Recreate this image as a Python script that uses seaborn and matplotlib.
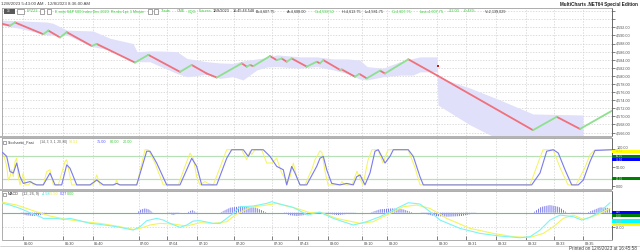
import numpy as np
import pandas as pd
import matplotlib
matplotlib.use("Agg")
import matplotlib.pyplot as plt
from matplotlib.patches import Rectangle
from matplotlib.transforms import blended_transform_factory as btf, ScaledTranslation
import seaborn as sns

# ---------------- data ----------------
# x axis = bar position (renko bars)
tick_pos = [22.7, 63, 92.7, 138.7, 167, 197, 234, 272, 298, 328, 362, 387, 437, 466, 496, 526, 554, 583]
tick_lab = ['06:00', '06:30', '06:40', '07:00', '07:04', '07:10', '07:20', '07:30', '07:43',
            '08:00', '08:10', '08:20', '08:30', '08:31', '08:32', '08:32', '08:33', '08:35']

price_x = [0, 10, 15, 43.3, 48.3, 60, 66.7, 91.7, 96.7, 135, 148.3, 180, 191.7, 206.7, 216.7, 241.7,
           246.7, 250, 253.3, 270, 276.7, 281.7, 286.7, 291.7, 306.7, 316.7, 320, 323.3, 340, 341.7,
           355, 359.3, 366.7, 380, 385, 408.3, 438, 533, 556.7, 580, 612]
price = [4593.0, 4592.4, 4593.2, 4590.3, 4591.2, 4589.5, 4590.8, 4587.4, 4587.9, 4583.3, 4585.2,
         4581.0, 4582.7, 4580.6, 4579.6, 4583.1, 4582.3, 4582.7, 4582.4, 4584.9, 4583.9, 4584.3,
         4583.5, 4584.3, 4582.3, 4583.5, 4583.1, 4583.9, 4581.5, 4581.6, 4579.8, 4580.5, 4579.4,
         4581.3, 4580.6, 4584.1, 4580.0, 4566.6, 4569.9, 4566.9, 4571.4]

band_x = [0, 20, 47, 53, 67, 93, 110, 117, 133, 137, 150, 160, 177, 187, 207, 220, 233, 243, 257, 267,
          277, 300, 317, 333, 347, 360, 367, 383, 400, 413, 420, 437, 438, 470, 500, 533, 583]
band_hi = [4593.8, 4593.6, 4593.3, 4593.0, 4591.3, 4591.1, 4589.3, 4588.9, 4588.0, 4586.0, 4586.15,
           4586.15, 4586.0, 4584.3, 4583.5, 4583.2, 4583.1, 4583.7, 4584.2, 4584.5, 4585.2, 4584.7,
           4584.7, 4584.2, 4584.2, 4583.9, 4582.3, 4581.9, 4583.5, 4584.3, 4584.7, 4584.7, 4579.7,
           4577.0, 4574.05, 4570.6, 4570.35]
band_lo = [4592.6, 4591.75, 4590.1, 4590.1, 4590.1, 4587.2, 4586.4, 4585.6, 4583.5, 4583.5, 4583.5,
           4582.4, 4580.6, 4579.8, 4580.4, 4579.4, 4579.8, 4579.0, 4581.5, 4582.2, 4582.3, 4581.9,
           4582.3, 4581.5, 4580.6, 4579.2, 4579.0, 4579.8, 4580.2, 4580.2, 4581.0, 4581.0, 4572.8,
           4567.9, 4564.2, 4562.9, 4562.9]
signal_dot_x = [437.7]
signal_dot_p = [4582.4]
price_ticks = list(range(4566, 4597, 2))

stoch_d_x = [0, 3.3, 6.7, 10, 13.3, 16.7, 20, 23.3, 30, 33.3, 36.7, 43.3, 50, 55, 61.7, 66.7, 70, 76.7, 90,
             96.7, 103.3, 113.3, 116.7, 120, 136.7, 146.7, 150, 156.7, 166.7, 180, 186.7, 191.7, 196.7,
             201.7, 216.7, 226.7, 231.7, 243.3, 248.3, 251.7, 263.3, 270, 276.7, 283.3, 286.7, 291.7,
             295, 300, 306.7, 316.7, 320, 323.3, 326.7, 331.7, 340, 346.7, 353.3, 356.7, 360, 365, 370,
             375, 378.3, 381.7, 385, 390, 393.3, 408.3, 413.3, 420, 423.3, 531.7, 540, 546.7, 553.3,
             558.3, 565, 571.7, 578.3, 583.3, 590, 595, 611.7]
stoch_d = [94, 89, 80, 39, 35, 62, 25, 7, 12, 7, 3, 3, 35, 3, 3, 57, 48, 3, 3, 16, 3, 3, 7, 3, 3, 94, 94,
           62, 3, 3, 44, 75, 53, 3, 3, 75, 98, 98, 80, 98, 98, 80, 53, 44, 3, 53, 35, 3, 3, 53, 75, 80,
           44, 7, 3, 7, 3, 25, 30, 3, 35, 94, 98, 80, 62, 80, 98, 98, 80, 25, 3, 3, 35, 94, 98, 89, 44,
           3, 3, 16, 66, 96, 98]
stoch_k_x = [0, 1.7, 3.3, 5, 6.7, 8.3, 10, 11.7, 13.3, 15, 16.7, 18.3, 20, 23.3, 25, 28.3, 31.7, 33.3,
             43.3, 46.7, 50, 53.3, 58.3, 65, 66.7, 71.7, 93.3, 96.7, 100, 115, 116.7, 118.3, 136.7, 145,
             148.3, 155, 163.3, 178.3, 185, 190, 193.3, 196.7, 200, 205, 208.3, 213.3, 221.7, 226.7,
             241.7, 246.7, 250, 251.7, 255, 261.7, 266.7, 271.7, 276.7, 281.7, 285, 286.7, 290, 293.3,
             296.7, 300, 305, 311.7, 315, 320, 322, 325, 328, 340, 342, 345, 352, 357, 360, 363, 368,
             372, 378, 383, 388, 408, 415, 420, 530, 538, 543, 553, 560, 568, 576, 585, 590, 595, 612]
stoch_k = [98, 80, 89, 71, 53, 16, 25, 44, 25, 66, 75, 25, 3, 35, 3, 3, 12, 3, 3, 39, 44, 3, 3, 66, 71,
           3, 3, 30, 3, 3, 16, 3, 3, 98, 98, 62, 3, 3, 53, 89, 75, 25, 3, 12, 7, 3, 62, 98, 98, 71, 94,
           85, 98, 98, 62, 62, 75, 35, 21, 3, 25, 62, 25, 3, 3, 44, 71, 95, 90, 40, 3, 3, 12, 3, 3, 40,
           20, 3, 70, 98, 98, 62, 98, 98, 50, 3, 3, 62, 98, 98, 50, 3, 3, 50, 85, 98, 98]
stoch_levels = [80, 20]
stoch_tags = [(93.51, '#ffff00'), (80.00, '#008000'), (75.00, '#0000ff'), (20.00, '#008000')]

macd_x = [0, 10, 20, 30, 40, 43.3, 56.7, 63.3, 70, 80, 90, 100, 116.7, 133.3, 140, 146.7, 156.7, 163.3,
          170, 180, 186.7, 193.3, 200, 213.3, 220, 233.3, 240, 253.3, 266.7, 271.7, 280, 293.3, 303.3,
          308.3, 313.3, 320, 333.3, 353.3, 366.7, 380, 396.7, 408.3, 420, 430, 440, 460, 480, 500, 520,
          530, 540, 550, 560, 573.3, 581.7, 590, 600, 610]
macd = [5.52, 4.24, 2.39, 0, -2.21, -3.13, -3.13, -3.68, -3.13, -4.42, -5.89, -6.45, -7.73, -9.58,
        -7.73, -4.42, -3.13, -4.05, -5.89, -8.10, -6.81, -4.60, -4.42, -5.89, -5.89, -0.37, 3.31, 3.68,
        5.16, 6.08, 4.79, 2.95, 0, -1.29, -0.37, 0.3, -3.13, -6.81, -4.97, -2.21, 2.39, 5.52, 4.79,
        0.55, -4.05, -8.66, -11.42, -12.89, -13.81, -13.26, -9.58, -4.05, -1.29, -2.21, -4.05, -2.58,
        0.55, 5.52]
sig_x = [0, 16.7, 33.3, 50, 66.7, 83.3, 100, 116.7, 133.3, 140, 150, 160, 173.3, 186.7, 200, 213.3,
         226.7, 236.7, 250, 266.7, 276.7, 286.7, 300, 310, 320, 336.7, 360, 373.3, 386.7, 403.3, 416.7,
         430, 446.7, 470, 493.3, 513.3, 530, 543.3, 553.3, 563.3, 573.3, 583.3, 596.7, 610]
sig = [6.08, 4.24, 1.10, -1.84, -3.68, -4.97, -5.89, -7.37, -9.21, -8.66, -6.81, -5.89, -6.26, -7.37,
       -5.52, -5.89, -4.97, -0.74, 2.95, 4.24, 5.16, 3.68, 1.84, 0, 0.3, -3.13, -5.89, -4.97, -1.29,
       3.31, 4.24, 2.39, -3.13, -8.66, -11.42, -13.26, -13.63, -11.42, -7.73, -3.13, -1.29, -3.68,
       -1.29, 2.39]
hist_x = [2, 20, 26, 33, 40, 47, 137, 141, 145, 149, 153, 167, 173, 180, 187, 192, 197, 220, 230, 243,
          256, 267, 283, 290, 297, 304, 310, 320, 338, 357, 370, 380, 392, 403, 413, 420, 434, 448, 462,
          477, 533, 541, 550, 559, 567, 570, 577, 583, 587, 600, 610]
hist = [0, 0, -1.4, -1.84, -1.4, 0, 0, 1.8, 2.39, 1.8, 0, 0, -1.29, 0, 0, 1.47, 0, 0, 2.8, 3.68, 2.8,
        0, 0, -1.4, -1.84, -1.4, 0, 0, -1.29, 0, 0, 1.9, 2.39, 1.9, 0, 0, -1.8, -2.21, -1.8, 0, 0, 3.2,
        4.24, 3.2, 0, 0, -0.74, 0, 0, 2.95, 2.6]
macd_tags = [(0.27, '#0000ff'), (0.00, '#008000'), (-4.58, '#00ffff'), (-5.50, '#ffff00')]
macd_ticks = [-8]

# ---------------- style ----------------
sns.set_theme(style="white")
plt.rcParams['font.family'] = ['Liberation Sans', 'DejaVu Sans']
plt.rcParams['hatch.linewidth'] = 0.7

RED = '#f0707c'
GREEN = '#8ee08e'
YEL = '#f4f45a'
BLUE = '#7a7aee'
CYAN = '#7cf4f4'
GRID = '#cfcfcf'
FS = 2.7

W, H = 640, 252
fig = plt.figure(figsize=(6.4, 2.52), dpi=100)
fig.patch.set_facecolor('white')


def ax_px(x0, y0, x1, y1):
    return fig.add_axes([x0 / W, 1 - y1 / H, (x1 - x0) / W, (y1 - y0) / H])


axP = ax_px(2, 8, 612, 136)
axS = ax_px(2, 138, 612, 189)
axM = ax_px(2, 191, 612, 239.5)

for ax in (axP, axS, axM):
    ax.set_facecolor('white')
    ax.set_xlim(2, 612)
    ax.set_xticks(tick_pos)
    ax.grid(True, axis='x', color=GRID, lw=0.5, ls=(0, (2, 2)))
    ax.set_axisbelow(True)
    ax.tick_params(axis='x', length=0, labelbottom=False, bottom=False)
    for s in ax.spines.values():
        s.set_color('#a0a0a0')
        s.set_linewidth(0.6)
    ax.spines['right'].set_color('#505050')
    ax.yaxis.tick_right()
    ax.tick_params(axis='y', right=True, direction='out', length=2, width=0.5, colors='#505050',
                   labelsize=FS, pad=1)

# ---- price panel ----
axP.set_ylim(4565.16, 4596.77)
axP.set_yticks(price_ticks)
axP.set_yticklabels([f'{v:,.2f}' if v <= 4592 else '' for v in price_ticks])
axP.grid(True, axis='y', color=GRID, lw=0.5, ls=(0, (2, 2)))
axP.fill_between(band_x, band_lo, band_hi, color='#e0e0fa', lw=0, zorder=1)

rows = []
for i in range(len(price_x) - 1):
    d = 'up' if price[i + 1] > price[i] else 'down'
    rows.append(dict(x=price_x[i], p=price[i], seg=i, dir=d))
    rows.append(dict(x=price_x[i + 1], p=price[i + 1], seg=i, dir=d))
dfp = pd.DataFrame(rows)
sns.lineplot(data=dfp, x='x', y='p', units='seg', hue='dir', estimator=None, sort=False,
             palette={'up': GREEN, 'down': RED}, legend=False, ax=axP, lw=1.3, zorder=3)
sns.scatterplot(x=signal_dot_x, y=signal_dot_p, ax=axP, color='#e01010', marker='s', s=3,
                linewidth=0, zorder=4)

# ---- stochastic panel ----
axS.set_ylim(-8.1, 129.7)
axS.set_yticks([0, 50, 100])
axS.set_yticklabels(['0.00', '50.00', '100.00'])
for lv in stoch_levels:
    axS.axhline(lv, color='#b8e0b8', lw=0.9, zorder=1)
sns.lineplot(x=stoch_k_x, y=stoch_k, ax=axS, color=YEL, lw=0.7, estimator=None, sort=False, zorder=2)
sns.lineplot(x=stoch_d_x, y=stoch_d, ax=axS, color=BLUE, lw=0.8, estimator=None, sort=False, zorder=3)
# lift the top label a touch, clear of the value tag under it
for lab in axS.get_yticklabels():
    if lab.get_text() == '100.00':
        lab.set_transform(lab.get_transform() + ScaledTranslation(0, 1.5 / 100, fig.dpi_scale_trans))

# ---- MACD panel ----
axM.set_ylim(-14.8, 12.0)
axM.set_yticks(macd_ticks)
axM.set_yticklabels([f'{v:.2f}' for v in macd_ticks])
axM.grid(True, axis='y', color=GRID, lw=0.5, ls=(0, (2, 2)))
axM.fill_between(hist_x, 0, hist, facecolor='none', edgecolor='#7474ee', hatch='|' * 8, lw=0, zorder=2)
axM.axhline(0, color='#70c070', lw=0.8, zorder=3)
sns.lineplot(x=sig_x, y=sig, ax=axM, color=YEL, lw=0.8, estimator=None, sort=False, zorder=4)
sns.lineplot(x=macd_x, y=macd, ax=axM, color=CYAN, lw=0.8, estimator=None, sort=False, zorder=5)
axM.tick_params(axis='x', bottom=True, direction='in', length=3, width=0.5, colors='#505050')
tr = btf(axM.transData, axM.transAxes)
for p, l in zip(tick_pos, tick_lab):
    axM.text(p + 1.5, -0.06, l, transform=tr, ha='left', va='top', fontsize=FS, color='#404040')

for ax in (axP, axS, axM):
    ax.set_xlabel('')
    ax.set_ylabel('')


# ---- value tags on the right axes ----
def tags(ax, items, half_px):
    ymin, ymax = ax.get_ylim()
    hpx = ax.get_position().height * H
    upp = (ymax - ymin) / hpx
    placed = []
    for v, c in items:
        y = v
        for q in placed:
            if abs(y - q) < 2 * half_px * upp:
                y = q + 2 * half_px * upp if v >= q else q - 2 * half_px * upp
        placed.append(y)
        ax.add_patch(Rectangle((1.0, y - half_px * upp), 0.046, 2 * half_px * upp, facecolor=c,
                               edgecolor='none', transform=btf(ax.transAxes, ax.transData),
                               clip_on=False, zorder=6))
        light = c in ('#ffff00', '#00ffff')
        ax.text(1.006, y, f'{v:.2f}', transform=btf(ax.transAxes, ax.transData), fontsize=2.0,
                color='#c8c8a0' if light else '#e8e8e8', va='center', ha='left', zorder=7,
                clip_on=False)


tags(axS, stoch_tags, 1.7)
tags(axM, macd_tags, 1.7)

# ---- panel separators ----
for y0, y1 in [(136, 138), (189, 191)]:
    fig.patches.append(Rectangle((0, 1 - y1 / H), 612 / W, (y1 - y0) / H, transform=fig.transFigure,
                                 facecolor='#b4b4b4', edgecolor='none'))
fig.add_artist(plt.Line2D([0, 1], [1 - 246 / H, 1 - 246 / H], transform=fig.transFigure,
                          color='#c0c0c0', lw=0.5))


def ftext(x, y, s, c='#303030', **kw):
    fig.text(x / W, 1 - y / H, s, color=c, fontsize=kw.pop('fs', FS), va='center',
             ha=kw.pop('ha', 'left'), **kw)


ftext(1, 4, '12/8/2023 5:43:00 AM - 12/8/2023 8:36:00 AM', '#404040', fs=3.2)
ftext(638, 4.5, 'MultiCharts .NET64 Special Edition', '#202020', fs=3.3, ha='right', fontweight='bold')
ftext(637, 248.5, 'Printed on 12/8/2023 at 16:45:58', '#404040', fs=3.3, ha='right')

# toolbar row
fig.patches.append(Rectangle((4 / W, 1 - 14 / H), 11 / W, 5 / H, transform=fig.transFigure,
                             facecolor='#5a5a5a', edgecolor='none'))
ftext(6.5, 11.5, '3B', '#e0e0e0', fs=2.2)
for bx in (17, 40, 47, 148, 154):
    w = 7 if bx == 17 else 4
    fig.patches.append(Rectangle((bx / W, 1 - 14 / H), w / W, 5 / H, transform=fig.transFigure,
                                 facecolor='white', edgecolor='#606060', lw=0.4))
G = '#3cc83c'
K = '#303030'
for x, s, c in [(27, 'EPZ23', G), (55, 'E-mini S&P 500 Index Dec 2023  Renko 1pt, 1 Minute', G),
                (161, 'Trade', G), (177, 'CME', G), (188, 'CQG', G), (199, 'Futures', G),
                (213, '12/8/2023', K), (233, '16:45:46.548', K), (256, 'B=4,607.75', K),
                (287, 'A=4,608.00', K), (315, 'O=4,598.50', G), (342, 'H=4,613.75', K),
                (365, 'L=4,581.75', K), (392, 'C=4,607.75', G), (420, 'Last=4,607.75', G),
                (448, '+22.00', G), (463, '+0.48%', G), (485, 'V=2,139,029', K)]:
    ftext(x, 11.5, s, c)

# stochastic legend
fig.patches.append(Rectangle((2.5 / W, 1 - 144 / H), 3 / W, 3.5 / H, transform=fig.transFigure,
                             facecolor='white', edgecolor='#606060', lw=0.4))
for x, s, c, f in [(8, 'Stochastic_Fast', K, FS), (40, '(14, 3, 3, 1, 20, 80)', '#505050', 2.3),
                   (69, '93.51', '#e8e840', FS), (97, '75.00', '#5050ff', FS), (110, '80.00', G, FS),
                   (123, '20.00', G, FS)]:
    ftext(x, 142, s, c, fs=f)
# MACD legend
fig.patches.append(Rectangle((2.5 / W, 1 - 196 / H), 3 / W, 3.5 / H, transform=fig.transFigure,
                             facecolor='white', edgecolor='#606060', lw=0.4))
for x, s, c in [(8, 'MACD', K), (22, '(12, 26, 9)', '#505050'), (42, '-4.58', '#30e0e0'),
                (50, '-5.50', '#e8e840'), (60, '0.27', '#5050ff'), (67, '0.00', G)]:
    ftext(x, 194, s, c)

fig.savefig('out.png', dpi=100, facecolor='white')
